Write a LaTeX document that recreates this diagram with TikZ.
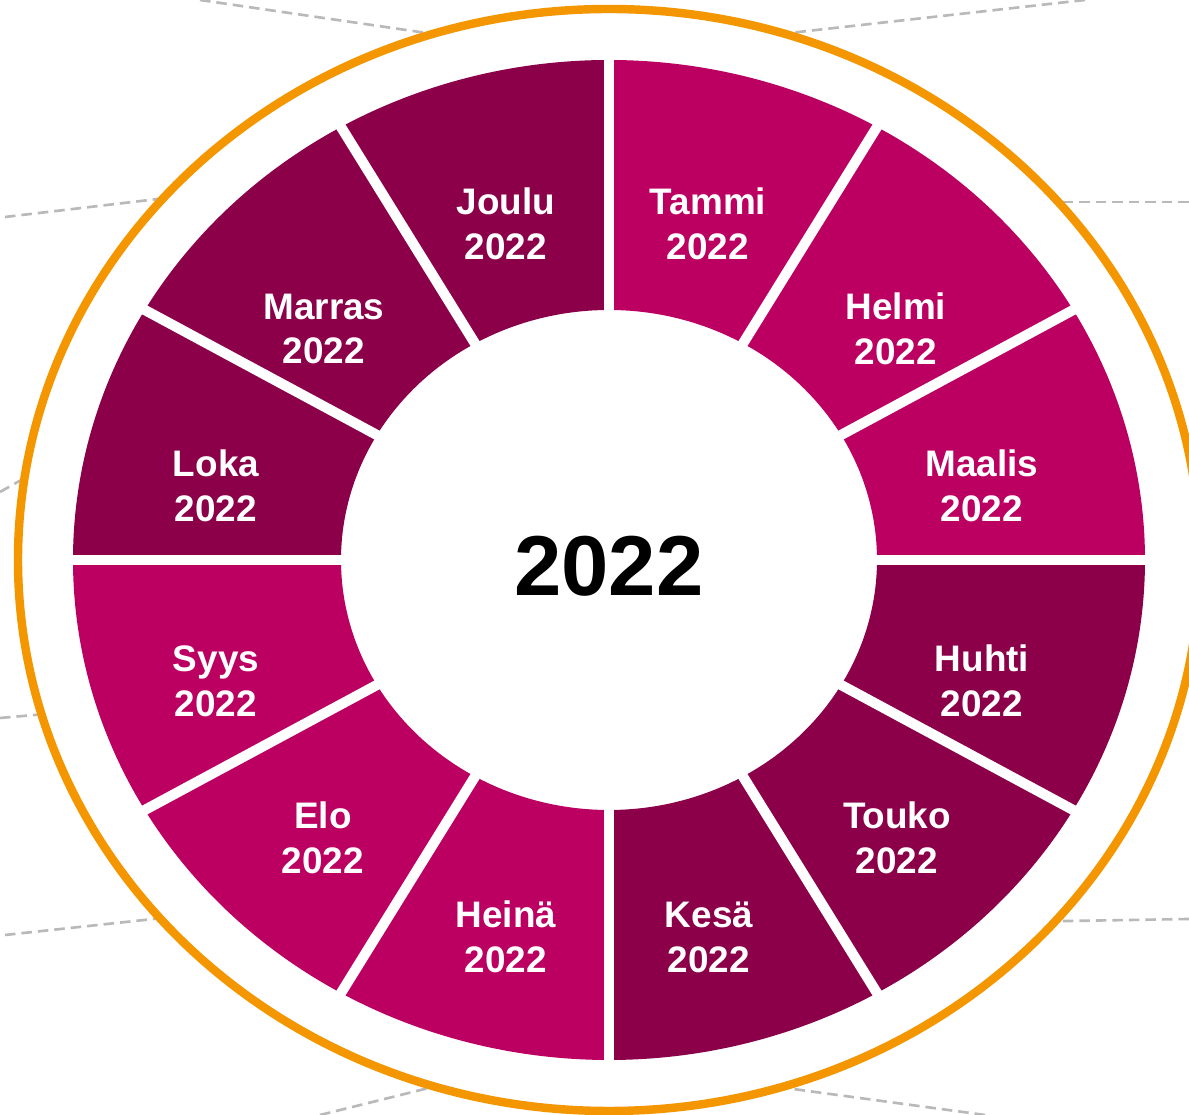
\documentclass[tikz,border=0pt]{standalone}
\usepackage{fontspec}
\setmainfont{Liberation Sans}
\usepackage{tikz}
\definecolor{monthdark}{RGB}{139,0,73}
\definecolor{monthlight}{RGB}{188,0,98}
\definecolor{ringorange}{RGB}{243,150,0}
\definecolor{guidegray}{RGB}{185,185,185}

\begin{document}
\begin{tikzpicture}[
        month/.style={text=white, align=center, font=\bfseries\fontsize{10.5}{12.8}\selectfont},
        guide/.style={draw=guidegray, line width=0.75pt, dash pattern=on 3pt off 1.7pt},
        gap/.style={draw=white, line width=2.9pt}
    ]
        \useasboundingbox (-6.09,-5.55) rectangle (5.80,5.60);
        % dashed guides behind the ring
        \draw[guide] (-4.09,5.60) -- (-1.00,5.15);
        \draw[guide] (-6.04,3.43) -- (-4.00,3.67);
        \draw[guide] (-6.09,0.68) -- (-5.40,1.07);
        \draw[guide] (-6.09,-1.58) -- (-5.40,-1.52);
        \draw[guide] (-6.04,-3.75) -- (-4.00,-3.53);
        \draw[guide] (-2.89,-5.55) -- (-1.40,-5.18);
        \draw[guide] (4.76,5.60) -- (1.00,5.18);
        \draw[guide] (5.80,3.58) -- (3.50,3.58);
        \draw[guide] (5.80,-3.59) -- (4.00,-3.62);
        \draw[guide] (3.76,-5.55) -- (1.40,-5.23);
        % outer ring
        \draw[ringorange, line width=2.4pt, fill=white] (0,0) ellipse (5.91 and 5.51);
        % the twelve months
        \begin{scope}[xscale=1.072]
            \fill[monthlight] (90:5) arc (90:60:5) -- (60:2.5) arc (60:90:2.5) -- cycle;
            \fill[monthlight] (60:5) arc (60:30:5) -- (30:2.5) arc (30:60:2.5) -- cycle;
            \fill[monthlight] (30:5) arc (30:0:5) -- (0:2.5) arc (0:30:2.5) -- cycle;
            \fill[monthdark] (0:5) arc (0:-30:5) -- (-30:2.5) arc (-30:0:2.5) -- cycle;
            \fill[monthdark] (-30:5) arc (-30:-60:5) -- (-60:2.5) arc (-60:-30:2.5) -- cycle;
            \fill[monthdark] (-60:5) arc (-60:-90:5) -- (-90:2.5) arc (-90:-60:2.5) -- cycle;
            \fill[monthlight] (-90:5) arc (-90:-120:5) -- (-120:2.5) arc (-120:-90:2.5) -- cycle;
            \fill[monthlight] (-120:5) arc (-120:-150:5) -- (-150:2.5) arc (-150:-120:2.5) -- cycle;
            \fill[monthlight] (-150:5) arc (-150:-180:5) -- (-180:2.5) arc (-180:-150:2.5) -- cycle;
            \fill[monthdark] (180:5) arc (180:150:5) -- (150:2.5) arc (150:180:2.5) -- cycle;
            \fill[monthdark] (150:5) arc (150:120:5) -- (120:2.5) arc (120:150:2.5) -- cycle;
            \fill[monthdark] (120:5) arc (120:90:5) -- (90:2.5) arc (90:120:2.5) -- cycle;
            \draw[gap] (90:5.1) -- (270:5.1);
            \draw[gap] (60:5.1) -- (240:5.1);
            \draw[gap] (30:5.1) -- (210:5.1);
            \draw[gap] (0:5.1) -- (180:5.1);
            \draw[gap] (-30:5.1) -- (150:5.1);
            \draw[gap] (-60:5.1) -- (120:5.1);
            \fill[white] (0,0) circle (2.48);
        \end{scope}
        \node[font=\bfseries\fontsize{24.2}{29}\selectfont] (year) at (0,-0.06) {2022};
        \node[month] (tammi) at (0.99,3.36) {Tammi\\2022};
        \node[month] (helmi) at (2.87,2.31) {Helmi\\2022};
        \node[month] (maalis) at (3.73,0.74) {Maalis\\2022};
        \node[month] (huhti) at (3.73,-1.21) {Huhti\\2022};
        \node[month] (touko) at (2.88,-2.78) {Touko\\2022};
        \node[month] (kesa) at (1.00,-3.77) {Kesä\\2022};
        \node[month] (heina) at (-1.03,-3.77) {Heinä\\2022};
        \node[month] (elo) at (-2.86,-2.78) {Elo\\2022};
        \node[month] (syys) at (-3.93,-1.21) {Syys\\2022};
        \node[month] (loka) at (-3.93,0.74) {Loka\\2022};
        \node[month] (marras) at (-2.85,2.31) {Marras\\2022};
        \node[month] (joulu) at (-1.03,3.36) {Joulu\\2022};
    \end{tikzpicture}
\end{document}
